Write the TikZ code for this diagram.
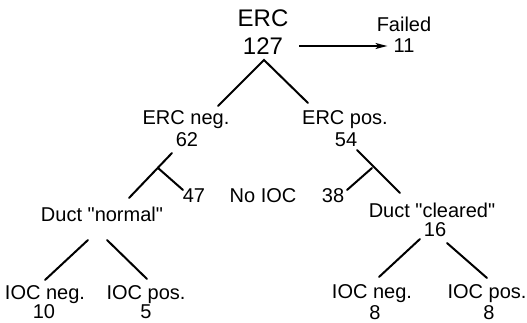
\documentclass[tikz,border=0pt]{standalone}
\usepackage{fontspec}
\setmainfont{Liberation Sans}
\newfontfamily\lblfont{Liberation Sans}
\usetikzlibrary{arrows.meta}
\begin{document}
\begin{tikzpicture}[x=1pt,y=-1pt,
  lbl/.style={inner sep=0pt, anchor=base, font=\lblfont\fontsize{20}{20}\selectfont},
  big/.style={inner sep=0pt, anchor=base, font=\lblfont\fontsize{24}{24}\selectfont},
  edge/.style={line width=2pt, line cap=round},
  arr/.style={line width=1.3pt, -{Stealth[length=12pt,width=6pt,inset=3pt]}}]
\useasboundingbox (0,0) rectangle (527,323);
% top
\node[big] (ercT) at (263,27) {ERC};
\node[big] (ercN) at (263,55) {127};
\node[lbl] (failed) at (404,32) {Failed};
\node[lbl] (eleven) at (404,53) {11};
\coordinate (arrS) at (299,46);
\draw[arr, shorten >=6pt] (arrS) -- (arrS -| eleven.west);
% level 1
\node[lbl] (ercneg) at (186,125) {ERC neg.};
\node[lbl] (n62) at (187,147) {62};
\node[lbl] (ercpos) at (345,125) {ERC pos.};
\node[lbl] (n54) at (346,147) {54};
\coordinate (apex) at (264,60);
\coordinate (l1) at (218,106);
\coordinate (r1) at (308,103);
\draw[edge] (l1) -- (apex) -- (r1);
% level 2 left
\coordinate (a62) at (172,153);
\coordinate (b62) at (158,168);
\coordinate (c62) at (129,198);
\node[lbl] (n47) at (194,202) {47};
\coordinate (d47) at (183,190);
\draw[edge] (a62) -- (c62);
\draw[edge] (b62) -- (d47);
\node[lbl] (noioc) at (263,202) {No IOC};
% level 2 right
\coordinate (a54) at (357,150);
\coordinate (b54) at (372,168);
\coordinate (c54) at (400,193);
\node[lbl] (n38) at (333,202) {38};
\coordinate (d38) at (347,190);
\draw[edge] (a54) -- (c54);
\draw[edge] (b54) -- (d38);
% level 3
\node[lbl] (ductn) at (102,221) {Duct "normal"};
\node[lbl] (ductc) at (432,217) {Duct "cleared"};
\node[lbl] (n16) at (435,236) {16};
\coordinate (dl1) at (88,240);
\coordinate (dl2) at (107,240);
\coordinate (dr1) at (420,239);
\coordinate (dr2) at (447,243);
\node[lbl] (ioc1) at (45,299) {IOC neg.};
\node[lbl] (n10) at (44,318) {10};
\node[lbl] (ioc2) at (146,299) {IOC pos.};
\node[lbl] (n5) at (146,318) {5};
\node[lbl] (ioc3) at (372,298) {IOC neg.};
\node[lbl] (n8a) at (375,319) {8};
\node[lbl] (ioc4) at (487,298) {IOC pos.};
\node[lbl] (n8b) at (489,319) {8};
\coordinate (e1) at (45,280);
\coordinate (e2) at (147,279);
\coordinate (e3) at (379,277);
\coordinate (e4) at (487,278);
\draw[edge] (dl1) -- (e1);
\draw[edge] (dl2) -- (e2);
\draw[edge] (dr1) -- (e3);
\draw[edge] (dr2) -- (e4);
\end{tikzpicture}
\end{document}
